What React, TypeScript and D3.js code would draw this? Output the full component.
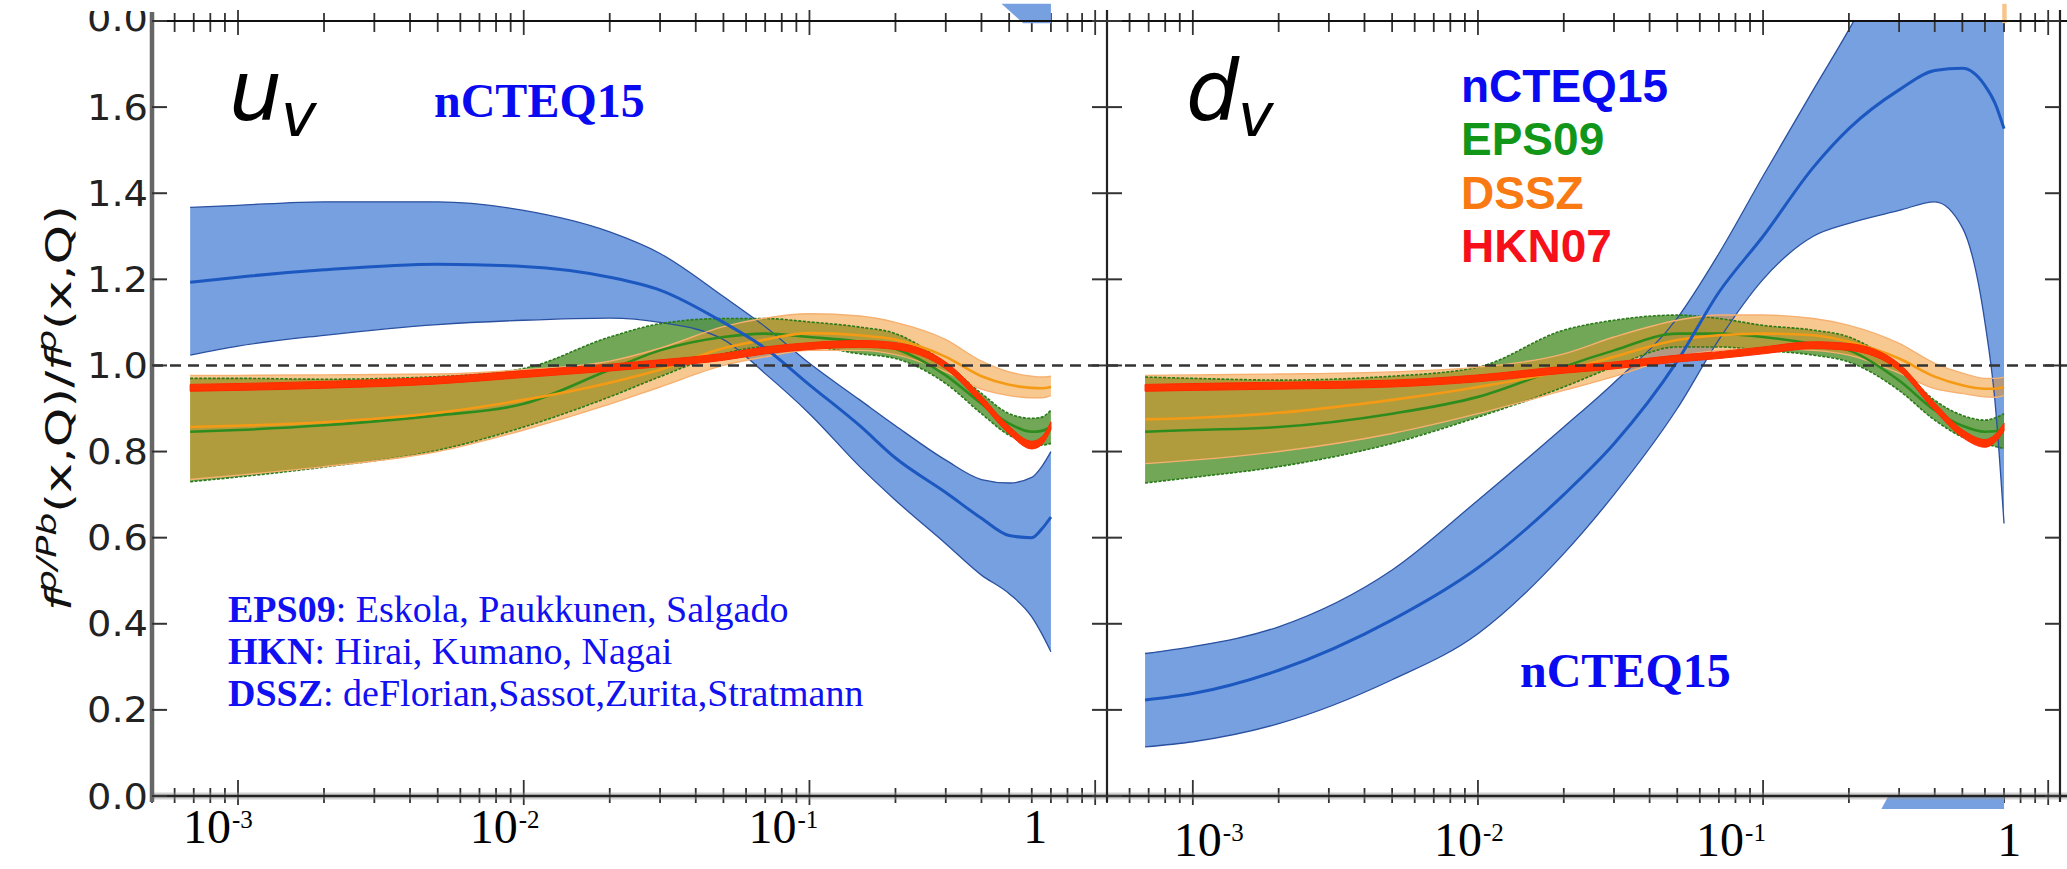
import React, { useEffect, useRef } from 'react';
import * as d3 from 'd3';

const W = 2067;
const H = 869;

const xs = [6.8e-4, 1e-3, 2e-3, 5e-3, 1e-2, 2e-2, 3e-2, 5e-2, 7e-2, 0.1, 0.15, 0.2, 0.3, 0.4, 0.5, 0.6, 0.65, 0.7];

// u_v panel
const uvNcteqUpper = [1.367, 1.372, 1.38, 1.38, 1.36, 1.31, 1.26, 1.16, 1.09, 1.005, 0.92, 0.86, 0.78, 0.735, 0.727, 0.74, 0.765, 0.8];
const uvNcteqCenter = [1.193, 1.205, 1.222, 1.235, 1.23, 1.205, 1.175, 1.1, 1.04, 0.955, 0.86, 0.785, 0.705, 0.645, 0.605, 0.6, 0.62, 0.648];
const uvNcteqLower = [1.024, 1.045, 1.07, 1.095, 1.105, 1.11, 1.1, 1.06, 0.981, 0.888, 0.765, 0.687, 0.586, 0.513, 0.47, 0.416, 0.377, 0.335];

const uvEpsUpper = [0.97, 0.97, 0.968, 0.974, 0.993, 1.066, 1.097, 1.109, 1.109, 1.101, 1.089, 1.074, 1.004, 0.935, 0.888, 0.877, 0.88, 0.896];
const uvEpsCenter = [0.846, 0.85, 0.861, 0.884, 0.911, 0.99, 1.035, 1.066, 1.074, 1.066, 1.055, 1.039, 0.977, 0.911, 0.865, 0.846, 0.848, 0.857];
const uvEpsLower = [0.73, 0.741, 0.764, 0.803, 0.857, 0.927, 0.974, 1.027, 1.043, 1.043, 1.027, 1.016, 0.958, 0.888, 0.838, 0.819, 0.815, 0.819];

const uvDsszUpper = [0.977, 0.977, 0.978, 0.98, 0.99, 1.01, 1.04, 1.09, 1.11, 1.12, 1.115, 1.1, 1.06, 1.01, 0.985, 0.975, 0.973, 0.975];
const uvDsszCenter = [0.857, 0.86, 0.868, 0.89, 0.92, 0.96, 0.99, 1.04, 1.06, 1.075, 1.07, 1.06, 1.02, 0.975, 0.955, 0.948, 0.947, 0.95];
const uvDsszLower = [0.735, 0.745, 0.765, 0.8, 0.85, 0.91, 0.95, 1.0, 1.02, 1.035, 1.035, 1.025, 0.985, 0.945, 0.93, 0.925, 0.925, 0.93];

const uvHknUpper = [0.956, 0.958, 0.963, 0.973, 0.988, 1.003, 1.013, 1.028, 1.043, 1.053, 1.058, 1.053, 1.008, 0.929, 0.859, 0.824, 0.834, 0.869];
const uvHknLower = [0.94, 0.942, 0.947, 0.957, 0.972, 0.987, 0.997, 1.012, 1.027, 1.037, 1.042, 1.037, 0.992, 0.911, 0.841, 0.806, 0.816, 0.851];

// d_v panel
const dvNcteqUpper = [0.331, 0.347, 0.393, 0.525, 0.687, 0.857, 0.96, 1.11, 1.26, 1.44, 1.64, 1.78, 2.0, 2.2, 2.4, 2.6, 2.7, 2.8];
const dvNcteqCenter = [0.223, 0.238, 0.292, 0.409, 0.53, 0.7, 0.818, 1.01, 1.17, 1.3, 1.46, 1.55, 1.64, 1.685, 1.69, 1.65, 1.61, 1.55];
const dvNcteqLower = [0.114, 0.126, 0.168, 0.27, 0.377, 0.563, 0.7, 0.9, 1.06, 1.2, 1.3, 1.33, 1.36, 1.38, 1.32, 1.1, 0.92, 0.633];

const dvEpsUpper = [0.973, 0.97, 0.966, 0.975, 0.996, 1.082, 1.105, 1.117, 1.109, 1.093, 1.082, 1.066, 0.996, 0.919, 0.884, 0.873, 0.878, 0.888];
const dvEpsCenter = [0.846, 0.85, 0.857, 0.888, 0.927, 0.997, 1.035, 1.074, 1.074, 1.066, 1.05, 1.035, 0.965, 0.896, 0.86, 0.846, 0.847, 0.85];
const dvEpsLower = [0.727, 0.74, 0.765, 0.819, 0.88, 0.95, 0.997, 1.043, 1.043, 1.035, 1.024, 1.008, 0.942, 0.873, 0.834, 0.819, 0.812, 0.807];

const dvDsszUpper = [0.977, 0.978, 0.98, 0.985, 0.996, 1.027, 1.066, 1.105, 1.117, 1.117, 1.109, 1.093, 1.051, 1.005, 0.982, 0.97, 0.97, 0.973];
const dvDsszCenter = [0.875, 0.878, 0.89, 0.92, 0.95, 0.988, 1.02, 1.059, 1.07, 1.074, 1.07, 1.055, 1.016, 0.974, 0.954, 0.946, 0.946, 0.95];
const dvDsszLower = [0.772, 0.78, 0.8, 0.842, 0.888, 0.942, 0.974, 1.02, 1.035, 1.039, 1.035, 1.024, 0.982, 0.946, 0.935, 0.927, 0.926, 0.93];

const dvHknUpper = [0.956, 0.958, 0.961, 0.966, 0.978, 0.998, 1.008, 1.024, 1.032, 1.043, 1.055, 1.051, 1.004, 0.913, 0.851, 0.828, 0.839, 0.866];
const dvHknLower = [0.94, 0.942, 0.945, 0.95, 0.962, 0.982, 0.992, 1.008, 1.016, 1.027, 1.039, 1.035, 0.988, 0.895, 0.833, 0.81, 0.821, 0.848];

// bits of neighbouring panels that show at the crop edges: [x, value]
const leftTopScrap: [number, number][] = [[0.47, 1.84], [0.56, 1.795], [0.7, 1.795], [0.7, 1.84]];
const rightTopScrap: [number, number][] = [[0.69, 1.84], [0.69, 1.795], [0.715, 1.795], [0.715, 1.84]];
const rightBottomScrap: [number, number][] = [[0.26, -0.03], [0.275, 0], [0.7, 0], [0.7, -0.03]];

const yTicks = [0, 0.2, 0.4, 0.6, 0.8, 1.0, 1.2, 1.4, 1.6];
const yTickLabels = ['0.0', '0.2', '0.4', '0.6', '0.8', '1.0', '1.2', '1.4', '1.6'];
const xMajor = [1e-3, 1e-2, 1e-1, 1];
const xBase = ['10', '10', '10', '1'];
const xExp = ['-3', '-2', '-1', ''];

const legendNames = ['nCTEQ15', 'EPS09', 'DSSZ', 'HKN07'];
const legendColors = ['#0a0af0', '#12961a', '#f97a12', '#f5101a'];
const refBold = ['EPS09', 'HKN', 'DSSZ'];
const refText = [': Eskola, Paukkunen, Salgado', ': Hirai, Kumano, Nagai', ': deFlorian,Sassot,Zurita,Stratmann'];

const MPL = "'DejaVu Sans', sans-serif";
const SERIF = "'Liberation Serif', 'Times New Roman', serif";
const ARIAL = "'Liberation Sans', Arial, sans-serif";

const panels = [
  {
    x0: 152, x1: 1107, labelY: 843, shift: [-7, -6, -13, -60], letter: 'u', letterX: 229,
    ncteq: [uvNcteqLower, uvNcteqCenter, uvNcteqUpper],
    eps: [uvEpsLower, uvEpsCenter, uvEpsUpper],
    dssz: [uvDsszLower, uvDsszCenter, uvDsszUpper],
    hkn: [uvHknLower, uvHknUpper],
  },
  {
    x0: 1107, x1: 2060, labelY: 856, shift: [29, 4, -19, -39], letter: 'd', letterX: 1186,
    ncteq: [dvNcteqLower, dvNcteqCenter, dvNcteqUpper],
    eps: [dvEpsLower, dvEpsCenter, dvEpsUpper],
    dssz: [dvDsszLower, dvDsszCenter, dvDsszUpper],
    hkn: [dvHknLower, dvHknUpper],
  },
];

const App: React.FC = () => {
  const svgRef = useRef<SVGSVGElement>(null);

  useEffect(() => {
    if (!svgRef.current) return;
    const svg = d3.select(svgRef.current);
    svg.selectAll('*').remove();
    svg.append('rect').attr('width', W).attr('height', H).attr('fill', '#fff');
    const defs = svg.append('defs');

    const y = d3.scaleLinear().domain([0, 1.8]).range([796, 21]);

    panels.forEach((p, i) => {
      const x = d3.scaleLog().domain([5e-4, 1.1]).range([p.x0, p.x1]);
      const clipId = `plotclip${i}`;
      defs.append('clipPath').attr('id', clipId).append('rect')
        .attr('x', p.x0).attr('y', y(1.8)).attr('width', p.x1 - p.x0).attr('height', y(0) - y(1.8));

      const area = (lo: number[], hi: number[]) =>
        d3.area<number>().x(d => x(d)).y0((d, k) => y(lo[k])).y1((d, k) => y(hi[k])).curve(d3.curveMonotoneX)(xs);
      const line = (arr: number[]) =>
        d3.line<number>().x(d => x(d)).y((d, k) => y(arr[k])).curve(d3.curveMonotoneX)(xs);

      const g = svg.append('g').attr('clip-path', `url(#${clipId})`);

      // nCTEQ15 band
      g.append('path').attr('d', area(p.ncteq[0], p.ncteq[2])).attr('fill', '#76a0e0');
      // EPS09 band
      g.append('path').attr('d', area(p.eps[0], p.eps[2])).attr('fill', 'rgb(82,148,50)').attr('fill-opacity', 0.82);
      // DSSZ band
      g.append('path').attr('d', area(p.dssz[0], p.dssz[2])).attr('fill', 'rgb(242,146,36)').attr('fill-opacity', 0.5);

      [p.ncteq[0], p.ncteq[2]].forEach(a => g.append('path').attr('d', line(a)).attr('fill', 'none')
        .attr('stroke', '#2a50a0').attr('stroke-width', 1.3));
      [p.eps[0], p.eps[2]].forEach(a => g.append('path').attr('d', line(a)).attr('fill', 'none')
        .attr('stroke', '#2a7a1a').attr('stroke-width', 1.6).attr('stroke-dasharray', '3,1.5'));
      [p.dssz[0], p.dssz[2]].forEach(a => g.append('path').attr('d', line(a)).attr('fill', 'none')
        .attr('stroke', '#f6b070').attr('stroke-width', 1.4));

      g.append('path').attr('d', line(p.eps[1])).attr('fill', 'none').attr('stroke', '#2e8c1e').attr('stroke-width', 2.6);
      g.append('path').attr('d', line(p.dssz[1])).attr('fill', 'none').attr('stroke', '#f59a14').attr('stroke-width', 2.6);
      g.append('path').attr('d', line(p.ncteq[1])).attr('fill', 'none').attr('stroke', '#1c58c0').attr('stroke-width', 3);

      // HKN07 band
      g.append('path').attr('d', area(p.hkn[0], p.hkn[1])).attr('fill', '#ff3400')
        .attr('stroke', '#ff2a00').attr('stroke-width', 1);

      // unity line
      svg.append('line').attr('x1', p.x0).attr('x2', i === 1 ? W : p.x1).attr('y1', y(1)).attr('y2', y(1))
        .attr('stroke', '#333').attr('stroke-width', 2.4).attr('stroke-dasharray', '11,7');

      // x ticks, top and bottom
      const ticks: { v: number; major: boolean }[] = [];
      for (let e = -4; e <= 0; e++) {
        for (let m = 1; m <= 9; m++) {
          const v = m * Math.pow(10, e);
          if (v >= 5e-4 && v <= 1.1) ticks.push({ v, major: m === 1 });
        }
      }
      ticks.forEach(t => {
        const tx = x(t.v);
        svg.append('line').attr('x1', tx).attr('x2', tx)
          .attr('y1', t.major ? y(0) - 16 : y(0) - 8).attr('y2', t.major ? y(0) + 9 : y(0) + 7)
          .attr('stroke', '#333').attr('stroke-width', 1.8);
        svg.append('line').attr('x1', tx).attr('x2', tx)
          .attr('y1', t.major ? y(1.8) - 11 : y(1.8) - 8).attr('y2', t.major ? y(1.8) + 14 : y(1.8) + 11)
          .attr('stroke', '#333').attr('stroke-width', 1.8);
      });

      // x tick labels
      xMajor.forEach((v, k) => {
        const tx = x(v) + p.shift[k];
        if (xExp[k]) {
          svg.append('text').attr('x', tx).attr('y', p.labelY).attr('text-anchor', 'end')
            .attr('font-family', SERIF).attr('font-size', 48).attr('fill', '#000').text(xBase[k]);
          svg.append('text').attr('x', tx + 1).attr('y', p.labelY - 15).attr('text-anchor', 'start')
            .attr('font-family', SERIF).attr('font-size', 25).attr('fill', '#000').text(xExp[k]);
        } else {
          svg.append('text').attr('x', tx).attr('y', p.labelY).attr('text-anchor', 'middle')
            .attr('font-family', SERIF).attr('font-size', 48).attr('fill', '#000').text(xBase[k]);
        }
      });

      // panel letter with subscript v
      svg.append('text').attr('x', p.letterX).attr('y', 120).attr('font-family', MPL).attr('font-style', 'italic')
        .attr('font-size', 84).attr('fill', '#000').text(p.letter);
      svg.append('text').attr('x', p.letterX + 52).attr('y', 136).attr('font-family', MPL).attr('font-style', 'italic')
        .attr('font-size', 60).attr('fill', '#000').text('v');

      // scraps of neighbouring panels at the crop edges
      const scrapPath = (pts: [number, number][]) =>
        d3.line<[number, number]>().x(d => x(d[0])).y(d => y(d[1]))(pts) + 'Z';
      if (i === 0) {
        svg.append('path').attr('d', scrapPath(leftTopScrap)).attr('fill', '#76a0e0');
      } else {
        svg.append('path').attr('d', scrapPath(rightTopScrap)).attr('fill', '#f7c58a');
        svg.append('path').attr('d', scrapPath(rightBottomScrap)).attr('fill', '#76a0e0');
      }
    });

    // frame
    svg.append('line').attr('x1', 150).attr('x2', W).attr('y1', y(1.8)).attr('y2', y(1.8))
      .attr('stroke', '#111').attr('stroke-width', 2.2);
    svg.append('line').attr('x1', 150).attr('x2', W).attr('y1', y(0)).attr('y2', y(0))
      .attr('stroke', '#999').attr('stroke-width', 7).attr('stroke-opacity', 0.45);
    svg.append('line').attr('x1', 150).attr('x2', W).attr('y1', y(0)).attr('y2', y(0))
      .attr('stroke', '#222').attr('stroke-width', 2.5);
    svg.append('line').attr('x1', 152).attr('x2', 152).attr('y1', 12).attr('y2', 802)
      .attr('stroke', '#666').attr('stroke-width', 4.5);
    svg.append('line').attr('x1', 1107).attr('x2', 1107).attr('y1', 10).attr('y2', 802)
      .attr('stroke', '#222').attr('stroke-width', 2.2);
    svg.append('line').attr('x1', 2060).attr('x2', 2060).attr('y1', 10).attr('y2', 802)
      .attr('stroke', '#222').attr('stroke-width', 2.2);

    // y ticks
    yTicks.concat([1.8]).forEach(v => {
      const ty = y(v);
      [[152, 167], [1092, 1122], [2045, 2060]].forEach(([a, b]) => {
        svg.append('line').attr('x1', a).attr('x2', b).attr('y1', ty).attr('y2', ty)
          .attr('stroke', '#333').attr('stroke-width', 2);
      });
    });

    // y tick labels
    yTicks.forEach((v, k) => {
      svg.append('text').attr('x', 148).attr('y', y(v)).attr('dy', '0.36em').attr('text-anchor', 'end')
        .attr('font-family', MPL).attr('font-size', 35).attr('fill', '#222')
        .attr('textLength', 61).attr('lengthAdjust', 'spacingAndGlyphs').text(yTickLabels[k]);
    });
    // cropped label at the very top
    defs.append('clipPath').attr('id', 'topLabelClip').append('rect')
      .attr('x', 0).attr('y', 11).attr('width', 150).attr('height', 30);
    svg.append('text').attr('x', 148).attr('y', y(1.8) - 3).attr('dy', '0.36em').attr('text-anchor', 'end')
      .attr('clip-path', 'url(#topLabelClip)')
      .attr('font-family', MPL).attr('font-size', 35).attr('fill', '#222')
      .attr('textLength', 61).attr('lengthAdjust', 'spacingAndGlyphs').text('0.0');

    // y axis title
    const yt = svg.append('text').attr('text-anchor', 'middle').attr('font-family', MPL)
      .attr('font-size', 36).attr('fill', '#111');
    yt.append('tspan').attr('font-style', 'italic').text('f');
    yt.append('tspan').attr('font-style', 'italic').attr('font-size', 26).attr('dy', -15).text('p/Pb');
    yt.append('tspan').attr('dy', 15).text('(x,Q)/');
    yt.append('tspan').attr('font-style', 'italic').text('f');
    yt.append('tspan').attr('font-style', 'italic').attr('font-size', 26).attr('dy', -15).text('p');
    yt.append('tspan').attr('dy', 15).text('(x,Q)');
    const len = (yt.node() as SVGTextElement).getComputedTextLength() || 300;
    yt.attr('transform', `translate(71,408) rotate(-90) scale(${406 / len},1)`);

    // left annotation
    svg.append('text').attr('x', 434).attr('y', 117).attr('font-family', SERIF).attr('font-weight', 'bold')
      .attr('font-size', 48).attr('fill', legendColors[0]).text('nCTEQ15');
    refBold.forEach((b, k) => {
      const t = svg.append('text').attr('x', 228).attr('y', 622 + k * 42).attr('font-family', SERIF)
        .attr('font-size', 38).attr('fill', '#1010f0');
      t.append('tspan').attr('font-weight', 'bold').text(b);
      t.append('tspan').text(refText[k]);
    });

    // right legend
    legendNames.forEach((n, k) => {
      svg.append('text').attr('x', 1461).attr('y', 102 + k * 53.3).attr('font-family', ARIAL)
        .attr('font-weight', 'bold').attr('font-size', 46).attr('fill', legendColors[k]).text(n);
    });
    svg.append('text').attr('x', 1520).attr('y', 687).attr('font-family', SERIF).attr('font-weight', 'bold')
      .attr('font-size', 48).attr('fill', legendColors[0]).text('nCTEQ15');
  }, []);

  return (
    <svg ref={svgRef} width={W} height={H} viewBox={`0 0 ${W} ${H}`}
      style={{ position: 'absolute', left: 0, top: 0, display: 'block' }} />
  );
};

export default App;
